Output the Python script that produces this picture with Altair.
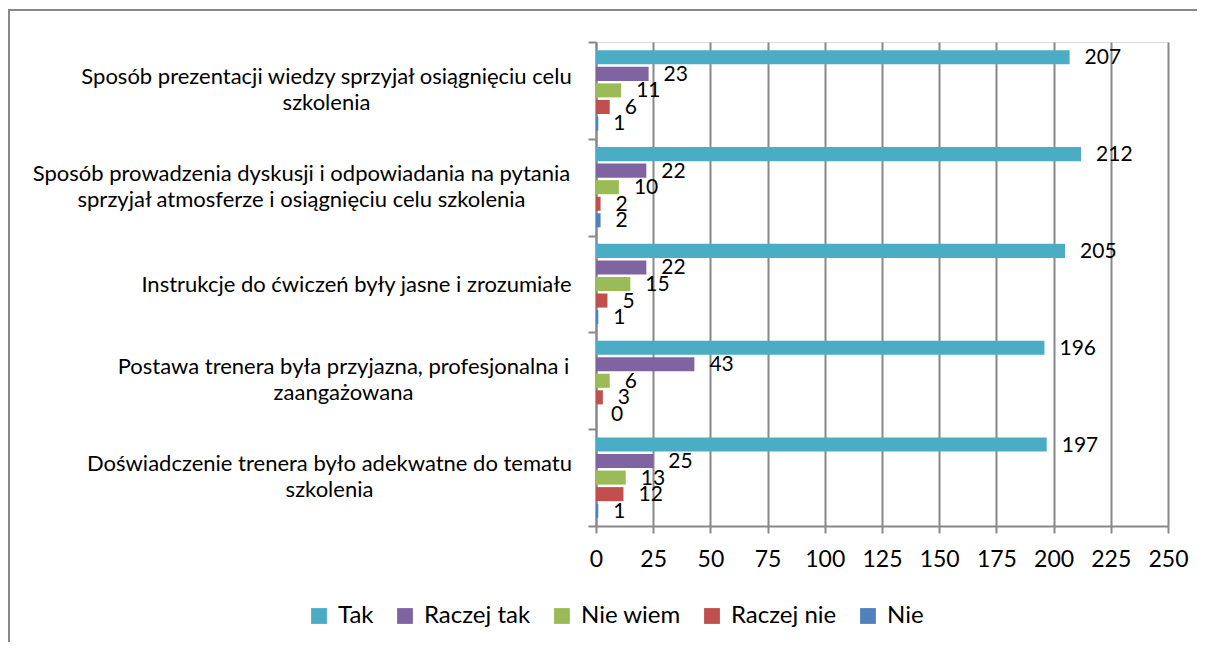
import json
import altair as alt
import pandas as pd

# ---------------- data ----------------
categories = [
    "Sposób prezentacji wiedzy sprzyjał osiągnięciu celu\nszkolenia",
    "Sposób prowadzenia dyskusji i odpowiadania na pytania\nsprzyjał atmosferze i osiągnięciu celu szkolenia",
    "Instrukcje do ćwiczeń były jasne i zrozumiałe",
    "Postawa trenera była przyjazna, profesjonalna i\nzaangażowana",
    "Doświadczenie trenera było adekwatne do tematu\nszkolenia",
]
series = ["Tak", "Raczej tak", "Nie wiem", "Raczej nie", "Nie"]
tak = [207, 212, 205, 196, 197]
raczej_tak = [23, 22, 22, 43, 25]
nie_wiem = [11, 10, 15, 6, 13]
raczej_nie = [6, 2, 5, 3, 12]
nie = [1, 2, 1, 0, 1]
x_ticks = [0, 25, 50, 75, 100, 125, 150, 175, 200, 225, 250]

values_by_series = {
    "Tak": tak,
    "Raczej tak": raczej_tak,
    "Nie wiem": nie_wiem,
    "Raczej nie": raczej_nie,
    "Nie": nie,
}

rows = []
for s in series:
    for c, v in zip(categories, values_by_series[s]):
        rows.append({"kategoria": c, "odpowiedz": s, "liczba": v})
df = pd.DataFrame(rows)

# ---------------- style ----------------
W, H = 572, 484
FONT = "Lato"
GRAY = "#888888"
colors = ["#4BACC6", "#8064A2", "#9BBB59", "#C0504D", "#4F81BD"]
# distance from tick end to the centre of each (centred) label block
label_pad = [262, 287, 232, 245, 259]

pad_cond = [
    {"test": "datum.value == " + json.dumps(c, ensure_ascii=False), "value": p}
    for c, p in zip(categories, label_pad)
]
# two-line labels: shift block so that it is centred on the band
base_cond = [
    {"test": "datum.value == " + json.dumps(c, ensure_ascii=False), "value": "line-bottom"}
    for c in categories if "\n" in c
]

base = alt.Chart(df)

y_enc = alt.Y(
    "kategoria:N",
    sort=categories,
    title=None,
    scale=alt.Scale(paddingInner=0, paddingOuter=0),
    axis=alt.Axis(
        labelExpr="split(datum.label, '\\n')",
        labelFont=FONT,
        labelFontSize=22,
        labelColor="#000000",
        labelAlign="center",
        labelBaseline={"condition": base_cond, "value": "middle"},
        labelLineHeight=26,
        labelLimit=0,
        labelPadding={"condition": pad_cond, "value": 250},
        domainColor=GRAY,
        domainWidth=2,
        tickColor=GRAY,
        tickWidth=2,
        tickSize=8,
        tickBand="extent",
        grid=False,
    ),
)
yoff_enc = alt.YOffset(
    "odpowiedz:N", sort=series,
    scale=alt.Scale(paddingInner=0.15, paddingOuter=0.5),
)
x_enc = alt.X(
    "liczba:Q",
    title=None,
    scale=alt.Scale(domain=[0, 250], nice=False, zero=True),
    axis=alt.Axis(
        values=x_ticks,
        labelFont=FONT,
        labelFontSize=23,
        labelColor="#000000",
        labelPadding=15,
        labelOverlap=False,
        labelFlush=False,
        domainColor=GRAY,
        domainWidth=2,
        tickColor=GRAY,
        tickWidth=2,
        tickSize=7,
        gridColor=GRAY,
        gridWidth=2,
        grid=True,
    ),
)

bars = base.mark_bar().encode(
    x=x_enc,
    y=y_enc,
    yOffset=yoff_enc,
    color=alt.Color(
        "odpowiedz:N",
        sort=series,
        scale=alt.Scale(domain=series, range=colors),
        legend=alt.Legend(
            title=None,
            orient="none",
            direction="horizontal",
            legendX=-289,
            legendY=562,
            symbolType="square",
            symbolSize=250,
            symbolStrokeWidth=0,
            labelFont=FONT,
            labelFontSize=24,
            labelColor="#000000",
            columnPadding=19,
            labelOffset=7,
        ),
    ),
)

labels = base.mark_text(
    align="left", baseline="middle", dx=15, dy=1,
    font=FONT, fontSize=21, color="#000000",
).encode(
    x=alt.X("liczba:Q"),
    y=alt.Y("kategoria:N", sort=categories),
    yOffset=alt.YOffset("odpowiedz:N", sort=series),
    text=alt.Text("liczba:Q"),
)

border = alt.Chart(alt.Data(values=[{"b": 1}])).mark_rect(
    fillOpacity=0, stroke=GRAY, strokeWidth=2,
).encode(
    x=alt.value(-587), x2=alt.value(W + 200),
    y=alt.value(-32), y2=alt.value(H + 300),
)

chart = alt.layer(border, bars, labels).properties(
    width=W,
    height=H,
    padding={"left": 588, "top": 34, "right": 29, "bottom": 116},
    autosize=alt.AutoSizeParams(type="none"),
).configure_view(stroke=None).configure(background="white")

chart.save("out.html", embed_options={"renderer": "svg", "actions": False})
